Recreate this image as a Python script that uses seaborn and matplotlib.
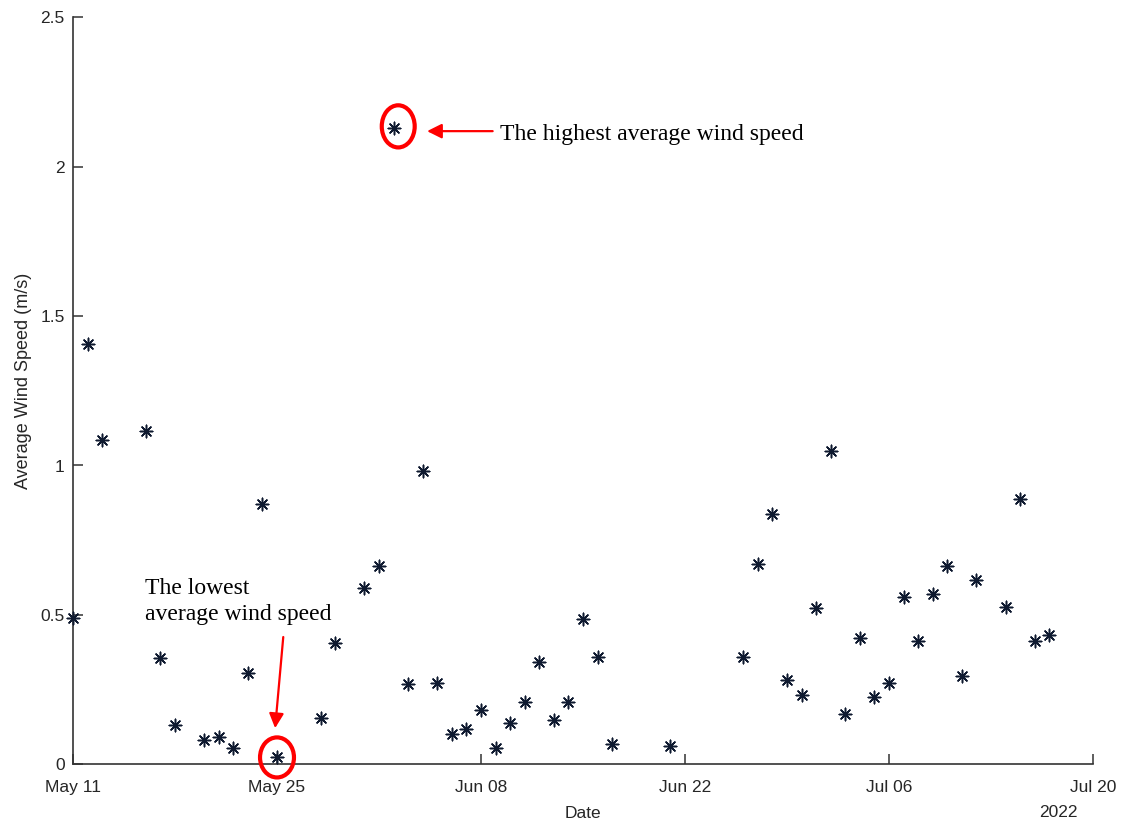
import numpy as np
import pandas as pd
import matplotlib
matplotlib.use("Agg")
import matplotlib.pyplot as plt
import matplotlib.dates as mdates
from matplotlib.patches import Ellipse
import seaborn as sns

# ---- data ----
dates = [
    "2022-05-11", "2022-05-12", "2022-05-13", "2022-05-16", "2022-05-17", "2022-05-18",
    "2022-05-20", "2022-05-21", "2022-05-22", "2022-05-23", "2022-05-24", "2022-05-25",
    "2022-05-28", "2022-05-29", "2022-05-31", "2022-06-01", "2022-06-02", "2022-06-03",
    "2022-06-04", "2022-06-05", "2022-06-06", "2022-06-07", "2022-06-08", "2022-06-09",
    "2022-06-10", "2022-06-11", "2022-06-12", "2022-06-13", "2022-06-14", "2022-06-15",
    "2022-06-16", "2022-06-17", "2022-06-21", "2022-06-26", "2022-06-27", "2022-06-28",
    "2022-06-29", "2022-06-30", "2022-07-01", "2022-07-02", "2022-07-03", "2022-07-04",
    "2022-07-05", "2022-07-06", "2022-07-07", "2022-07-08", "2022-07-09", "2022-07-10",
    "2022-07-11", "2022-07-12", "2022-07-14", "2022-07-15", "2022-07-16", "2022-07-17",
]
wind_speed = [
    0.491, 1.407, 1.086, 1.117, 0.355, 0.132,
    0.081, 0.092, 0.054, 0.305, 0.872, 0.023,
    0.154, 0.405, 0.589, 0.665, 2.128, 0.268,
    0.980, 0.273, 0.100, 0.117, 0.182, 0.054,
    0.137, 0.209, 0.342, 0.148, 0.209, 0.487,
    0.358, 0.068, 0.062, 0.358, 0.671, 0.838,
    0.282, 0.232, 0.524, 1.048, 0.168, 0.423,
    0.224, 0.273, 0.561, 0.411, 0.571, 0.662,
    0.296, 0.616, 0.528, 0.888, 0.411, 0.433,
]
x_ticks = ["2022-05-11", "2022-05-25", "2022-06-08", "2022-06-22", "2022-07-06", "2022-07-20"]
y_ticks = [0, 0.5, 1, 1.5, 2, 2.5]
y_tick_labels = ["0", "0.5", "1", "1.5", "2", "2.5"]

df = pd.DataFrame({"Date": pd.to_datetime(dates), "Speed": wind_speed})

sns.set_style("ticks")
plt.rcParams["font.family"] = ["Liberation Sans", "DejaVu Sans"]
axis_col = "#333333"

fig = plt.figure(figsize=(11.24, 8.21), dpi=100)
ax = fig.add_axes([73 / 1124, 1 - 764.3 / 821, 1020 / 1124, 747 / 821])

sns.scatterplot(data=df, x="Date", y="Speed", ax=ax, marker=(8, 2, 0),
                s=80, color="#0f1a30", linewidth=1.1, clip_on=False, zorder=3)

ax.set_xlim(pd.Timestamp("2022-05-11"), pd.Timestamp("2022-07-20"))
ax.set_ylim(0, 2.5)
ax.set_xticks(pd.to_datetime(x_ticks))
ax.xaxis.set_major_formatter(mdates.DateFormatter("%b %d"))
ax.set_yticks(y_ticks)
ax.set_yticklabels(y_tick_labels)

for side in ["top", "right"]:
    ax.spines[side].set_visible(False)
for side in ["left", "bottom"]:
    ax.spines[side].set_color(axis_col)
    ax.spines[side].set_linewidth(1.2)
ax.tick_params(direction="in", length=7, width=1.1, color=axis_col,
               labelsize=12.5, labelcolor="#262626")
ax.tick_params(axis="x", pad=11.5)
ax.tick_params(axis="y", pad=6)

ax.set_xlabel("Date", fontsize=12.5, color="#262626", labelpad=7.5)
ax.set_ylabel("Average Wind Speed (m/s)", fontsize=13, color="#262626")
ax.yaxis.set_label_coords(-0.040, 0.513)
fig.text(1078 / 1124, 1 - 812 / 821, "2022", ha="right", va="center",
         fontsize=12.5, color="#262626")

# ---- annotations ----
day = pd.Timedelta(days=1)
i_hi = int(np.argmax(wind_speed))
i_lo = int(np.argmin(wind_speed))
x_hi, y_hi = df["Date"][i_hi], wind_speed[i_hi]
x_lo, y_lo = df["Date"][i_lo], wind_speed[i_lo]

serif = ["Liberation Serif", "DejaVu Serif"]
red = "#ff0000"

ax.add_patch(Ellipse((mdates.date2num(x_hi) + 0.32, y_hi + 0.007), 2.26, 0.141,
                     fill=False, edgecolor=red, lw=3, clip_on=False, zorder=4))
ax.annotate("", xy=(x_hi + 2.3 * day, y_hi - 0.009), xytext=(x_hi + 6.8 * day, y_hi - 0.009),
            arrowprops=dict(arrowstyle="-|>", color=red, lw=1.6, mutation_scale=22,
                            shrinkA=0, shrinkB=0))
ax.text(x_hi + 7.3 * day, 2.091, "The highest average wind speed", family=serif,
        fontsize=17, ha="left", va="baseline", color="black")

ax.add_patch(Ellipse((mdates.date2num(x_lo), y_lo), 2.33, 0.134,
                     fill=False, edgecolor=red, lw=3, clip_on=False, zorder=4))
ax.annotate("", xy=(x_lo - 0.13 * day, y_lo + 0.098), xytext=(x_lo + 0.43 * day, y_lo + 0.403),
            arrowprops=dict(arrowstyle="-|>", color=red, lw=1.6, mutation_scale=22,
                            shrinkA=0, shrinkB=0))
ax.text(pd.Timestamp("2022-05-11") + 4.95 * day, 0.483, "The lowest\naverage wind speed",
        family=serif, fontsize=17, ha="left", va="baseline", color="black", linespacing=1.29)

fig.savefig("out.png", dpi=100, facecolor="white")
